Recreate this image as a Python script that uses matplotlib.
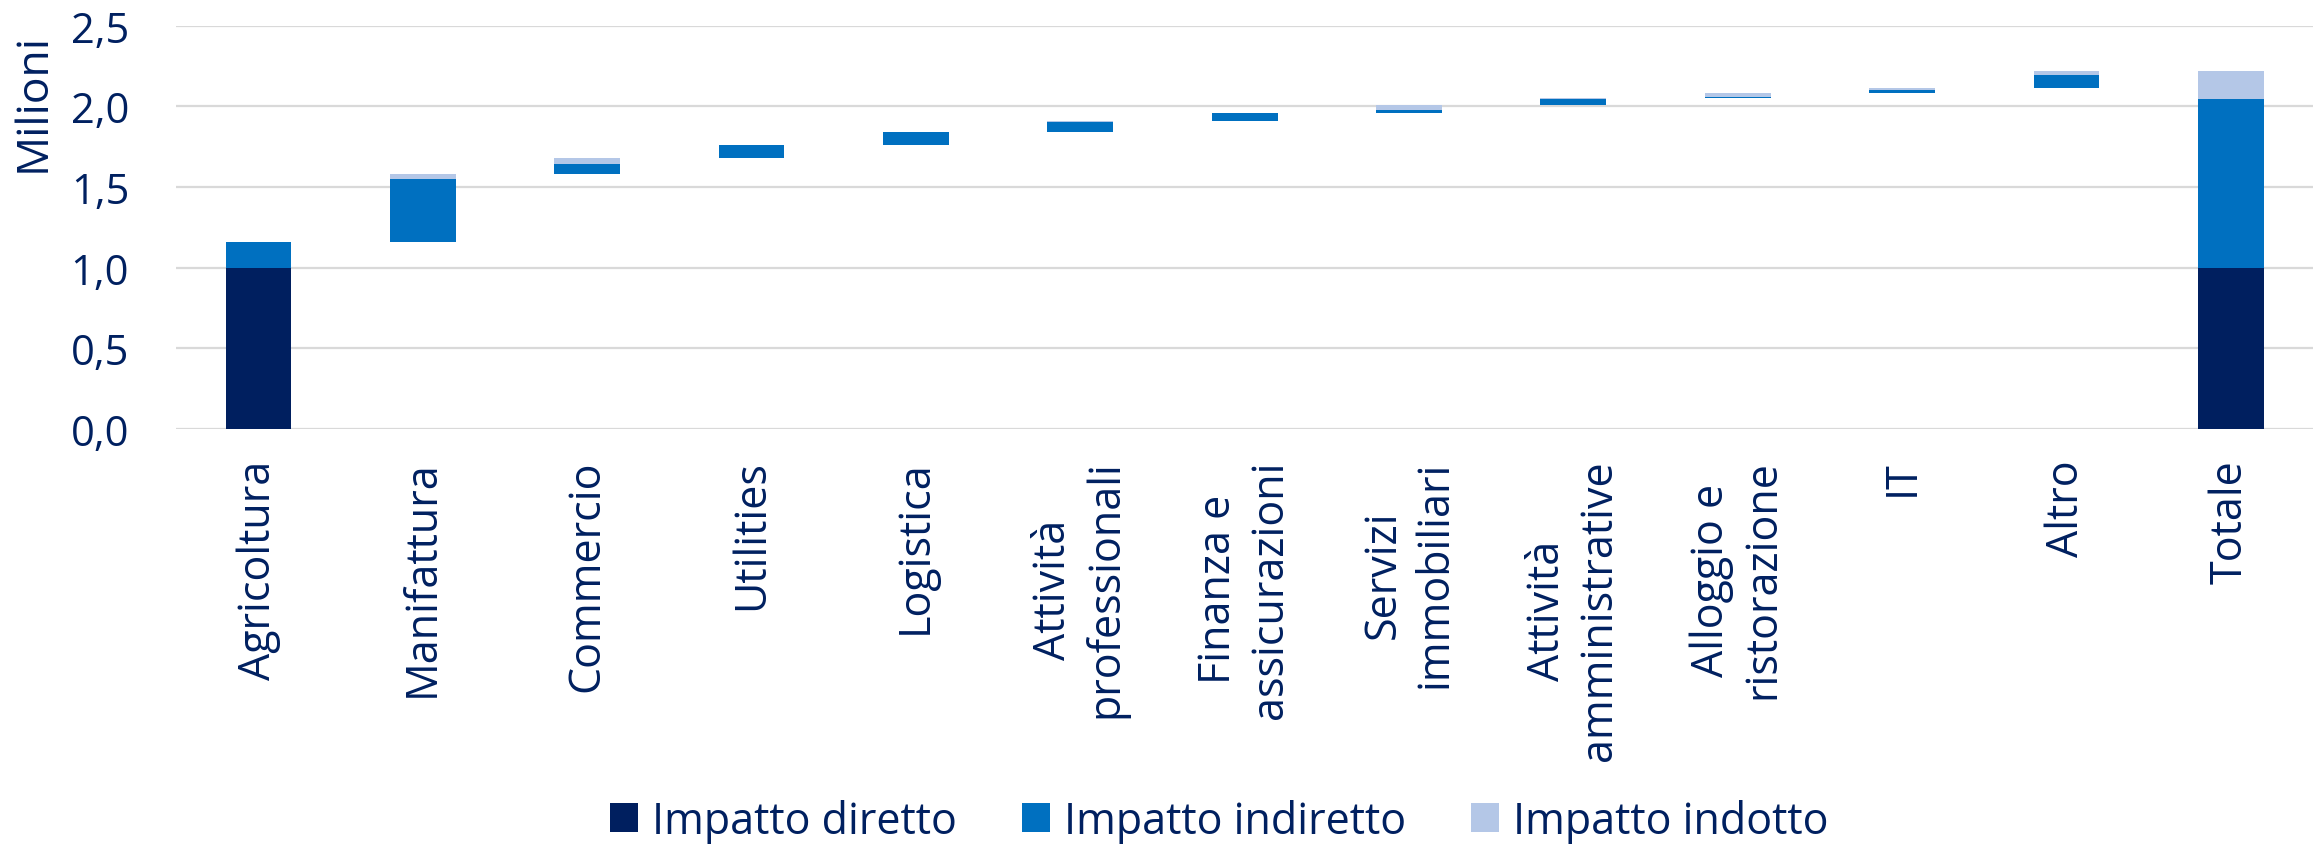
import numpy as np
import matplotlib
matplotlib.use("Agg")
import matplotlib.pyplot as plt

# Dati (milioni)
settori = ["Agricoltura", "Manifattura", "Commercio", "Utilities", "Logistica",
           "Attività\nprofessionali", "Finanza e\nassicurazioni", "Servizi\nimmobiliari",
           "Attività\namministrative", "Alloggio e\nristorazione", "IT", "Altro"]
diretto = [1.0, 0, 0, 0, 0, 0, 0, 0, 0, 0, 0, 0]
indiretto = [0.157, 0.39, 0.06, 0.08, 0.076, 0.063, 0.05, 0.015, 0.036, 0.01, 0.022, 0.085]
indotto = [0.003, 0.03, 0.04, 0.003, 0.004, 0.001, 0.003, 0.036, 0.002, 0.022, 0.008, 0.024]
yticks = [0.0, 0.5, 1.0, 1.5, 2.0, 2.5]

col_dir = "#001F5F"
col_ind = "#0070C0"
col_indotto = "#B4C7E7"
col_txt = "#002060"

plt.rcParams["font.family"] = ["Open Sans", "DejaVu Sans"]

diretto = np.array(diretto)
indiretto = np.array(indiretto)
indotto = np.array(indotto)
tot_settore = diretto + indiretto + indotto
base = np.concatenate([[0], np.cumsum(tot_settore)[:-1]])

# aggiungo la colonna Totale
labels = settori + ["Totale"]
d = np.append(diretto, diretto.sum())
i1 = np.append(indiretto, indiretto.sum())
i2 = np.append(indotto, indotto.sum())
b = np.append(base, 0)
x = np.arange(len(labels))

fig = plt.figure(figsize=(23.18, 8.45), dpi=100)
ax = fig.add_axes([0.0761, 0.4911, 0.9217, 0.4773])

w = 0.4
ax.bar(x, d, w, bottom=b, color=col_dir, label="Impatto diretto", zorder=3)
ax.bar(x, i1, w, bottom=b + d, color=col_ind, label="Impatto indiretto", zorder=3)
ax.bar(x, i2, w, bottom=b + d + i1, color=col_indotto, label="Impatto indotto", zorder=3)

ax.set_xlim(-0.5, len(labels) - 0.5)
ax.set_ylim(0, 2.5)
ax.set_yticks(yticks)
ax.set_yticklabels([f"{v:.1f}".replace(".", ",") for v in yticks])
ax.set_xticks(x)
ax.set_xticklabels(labels, rotation=90, multialignment="center", linespacing=1.22)

ax.grid(axis="y", color="#D9D9D9", linewidth=1.6, zorder=0)
ax.set_axisbelow(True)
for s in ax.spines.values():
    s.set_visible(False)
ax.tick_params(axis="both", length=0, colors=col_txt)
ax.tick_params(axis="y", pad=34, labelsize=30)
ax.tick_params(axis="x", pad=22, labelsize=31)

fig.text(33 / 2318, 1 - 102 / 845, "Milioni", rotation=90, ha="center", va="center",
         fontsize=32, color=col_txt)

leg = fig.legend(loc="center", bbox_to_anchor=(0.526, 0.027), ncol=3, frameon=False,
                 fontsize=31, handlelength=0.65, handleheight=0.65, handletextpad=0.33,
                 columnspacing=1.5, borderpad=0)
for t in leg.get_texts():
    t.set_color(col_txt)

fig.savefig("out.png", dpi=100)
